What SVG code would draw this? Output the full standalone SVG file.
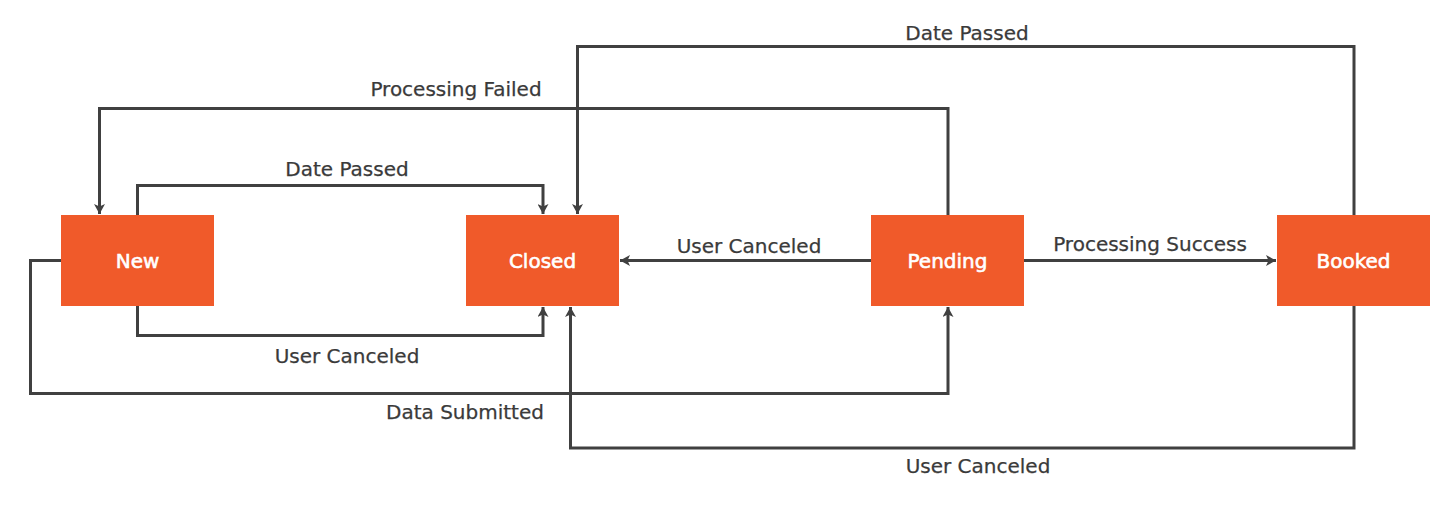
<svg xmlns="http://www.w3.org/2000/svg" width="1443" height="509" viewBox="0 0 1443 509">
<style>
.node rect{fill:#F05A2A;}
.node text{fill:#ffffff;stroke:#ffffff;stroke-width:0.6;font-family:"DejaVu Sans","Liberation Sans",sans-serif;font-size:20px;text-anchor:middle;}
.edge{fill:none;stroke:#404040;stroke-width:3;stroke-linejoin:miter;marker-end:url(#arrow);}
.lbl{fill:#3a3a3a;stroke:#3a3a3a;stroke-width:0.25;font-family:"DejaVu Sans","Liberation Sans",sans-serif;font-size:20px;text-anchor:middle;}
</style>
<defs>
<marker id="arrow" markerUnits="userSpaceOnUse" markerWidth="11" markerHeight="11" refX="10" refY="5.5" orient="auto">
<path d="M0,0 L10,5.5 L0,11 L2.5,5.5 z" fill="#404040"/>
</marker>
</defs>
<rect width="1443" height="509" fill="#ffffff"/>
<g id="connectors">
<path class="edge" d="M137.5,215 V185.5 H543 V214"/>
<path class="edge" d="M137.5,306 V335.5 H543 V307"/>
<path class="edge" d="M948,215 V108.5 H99.5 V214"/>
<path class="edge" d="M1354,215 V46.5 H577.5 V214"/>
<path class="edge" d="M871,260.5 H620"/>
<path class="edge" d="M1024,260.5 H1276"/>
<path class="edge" d="M61,260.5 H30.5 V393.5 H948 V307"/>
<path class="edge" d="M1354,306 V448 H570.5 V307"/>
</g>
<g id="labels">
<text class="lbl" x="456" y="96">Processing Failed</text>
<text class="lbl" x="967" y="40">Date Passed</text>
<text class="lbl" x="347" y="176">Date Passed</text>
<text class="lbl" x="347" y="363">User Canceled</text>
<text class="lbl" x="465" y="419">Data Submitted</text>
<text class="lbl" x="749" y="253">User Canceled</text>
<text class="lbl" x="1150" y="251">Processing Success</text>
<text class="lbl" x="978" y="473">User Canceled</text>
</g>
<g id="node-new" class="node">
<rect x="61" y="215" width="153" height="91"/>
<text x="137.5" y="268">New</text>
</g>
<g id="node-closed" class="node">
<rect x="466" y="215" width="153" height="91"/>
<text x="542.5" y="268">Closed</text>
</g>
<g id="node-pending" class="node">
<rect x="871" y="215" width="153" height="91"/>
<text x="947.5" y="268">Pending</text>
</g>
<g id="node-booked" class="node">
<rect x="1277" y="215" width="153" height="91"/>
<text x="1353.5" y="268">Booked</text>
</g>
</svg>
